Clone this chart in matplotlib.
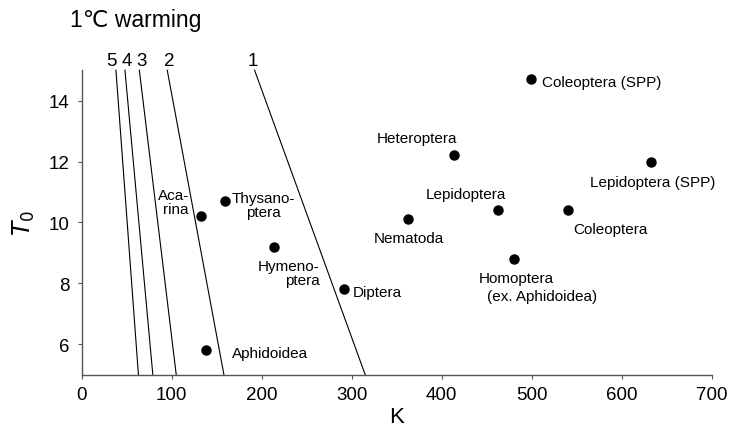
import matplotlib
matplotlib.use("Agg")
import matplotlib.pyplot as plt

plt.rcParams['font.family'] = ['Liberation Sans', 'DejaVu Sans']

# Orders: development constant K (degree-days) vs threshold T0
orders = ["Acarina", "Thysanoptera", "Hymenoptera", "Diptera", "Aphidoidea",
          "Coleoptera (SPP)", "Heteroptera", "Lepidoptera (SPP)", "Lepidoptera",
          "Coleoptera", "Nematoda", "Homoptera"]
k_values = [133, 159, 214, 291, 138, 499, 414, 633, 463, 540, 363, 480]
t0_values = [10.2, 10.7, 9.2, 7.8, 5.8, 14.7, 12.2, 12.0, 10.4, 10.4, 10.1, 8.8]

# Iso-lines (number of extra generations for 1 degree warming)
line_names = ["1", "2", "3", "4", "5"]
line_k_top = [192, 95, 64, 48, 38]      # K at T0 = 15
line_k_bottom = [315, 158, 105, 79, 63]  # K at T0 = 5
line_t0 = [15, 5]

# small horizontal nudges of the line numbers so they don't collide
name_nudge = [-2, 2, 3, 2, -5]

# label text, x, y, ha
labels = [
    ("Aca-\nrina", 119, 10.66, "right"),
    ("Thysano-\nptera", 202, 10.58, "center"),
    ("Hymeno-\nptera", 264, 8.33, "right"),
    ("Diptera", 301, 7.72, "left"),
    ("Aphidoidea", 167, 5.73, "left"),
    ("Coleoptera (SPP)", 511, 14.6, "left"),
    ("Heteroptera", 372, 12.76, "center"),
    ("Lepidoptera (SPP)", 634, 11.34, "center"),
    ("Lepidoptera", 427, 10.93, "center"),
    ("Coleoptera", 546, 9.8, "left"),
    ("Nematoda", 363, 9.5, "center"),
    ("Homoptera", 441, 8.17, "left"),
    ("(ex. Aphidoidea)", 450, 7.59, "left"),
]

fig = plt.figure(figsize=(7.33, 4.39), dpi=100)
ax = fig.add_axes([0.1115, 0.144, 0.8595, 0.694])

for name, kt, kb, dx in zip(line_names, line_k_top, line_k_bottom, name_nudge):
    ax.plot([kt, kb], line_t0, color="black", lw=0.8, clip_on=False)
    ax.text(kt + dx, 15.3, name, fontsize=13.5, ha="center", va="center")

ax.plot(k_values, t0_values, "o", color="black", ms=6.5, clip_on=False)

for txt, x, y, ha in labels:
    ax.text(x, y, txt, fontsize=11, ha=ha, va="center", multialignment=ha,
            linespacing=1.0)

ax.set_xlim(0, 700)
ax.set_ylim(5, 15)
ax.set_xticks(range(0, 701, 100))
ax.set_yticks(range(6, 15, 2))
ax.tick_params(labelsize=13.5, length=3, width=0.8, color="#555555")
ax.tick_params(axis="x", pad=5)
ax.tick_params(axis="y", pad=6)

for side in ["top", "right"]:
    ax.spines[side].set_visible(False)
for side in ["left", "bottom"]:
    ax.spines[side].set_color("#555555")
    ax.spines[side].set_linewidth(1.0)

ax.set_xlabel("K", fontsize=16, labelpad=2)
ax.set_ylabel("$T_0$", fontsize=17, labelpad=8)
fig.text(70 / 733, 1 - 20 / 439, "1℃ warming", fontsize=16.5, ha="left", va="center")

fig.savefig("out.png", dpi=100)
